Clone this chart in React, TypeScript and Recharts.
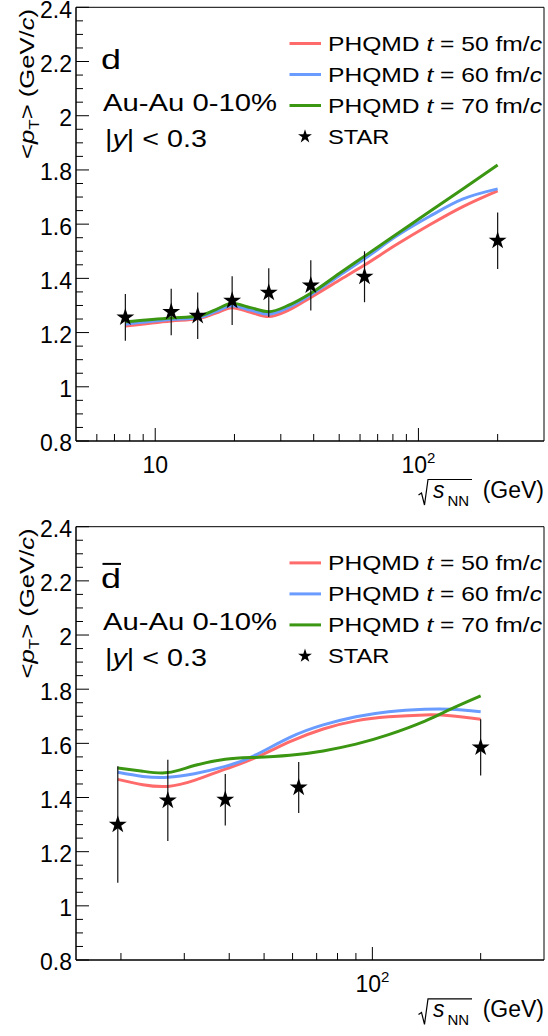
import React from 'react';
import {
  ComposedChart, Line, Scatter, ErrorBar, XAxis, YAxis, ZAxis, ReferenceArea, Legend, Symbols,
} from 'recharts';

const FONT = '"Liberation Sans", Arial, Helvetica, sans-serif';
const RED = '#ff6b6b';
const BLUE = '#6a9bff';
const GREEN = '#3b9612';

// --- deuteron panel ---
const dEnergy = [7.7, 11.5, 14.5, 19.6, 27, 39, 62.4, 200];
const dStar = [1.256, 1.276, 1.262, 1.318, 1.347, 1.374, 1.406, 1.539];
const dStarErr = [0.086, 0.086, 0.086, 0.09, 0.09, 0.093, 0.094, 0.104];
const dModelX = [7.7, 11.5, 14.5, 17, 19.6, 23, 27, 32, 39, 50, 62.4, 82, 110, 147, 200];
const d50 = [1.224, 1.243, 1.251, 1.272, 1.292, 1.275, 1.259, 1.282, 1.33, 1.393, 1.449, 1.523, 1.597, 1.664, 1.723];
const d60 = [1.231, 1.248, 1.255, 1.278, 1.299, 1.283, 1.268, 1.292, 1.339, 1.41, 1.472, 1.554, 1.628, 1.692, 1.73];
const d70 = [1.24, 1.254, 1.26, 1.285, 1.308, 1.292, 1.277, 1.3, 1.345, 1.418, 1.482, 1.561, 1.646, 1.729, 1.818];

// --- anti-deuteron panel ---
const dbarEnergy = [19.6, 27, 39, 62.4, 200];
const dbarStar = [1.3, 1.389, 1.392, 1.437, 1.585];
const dbarStarErr = [0.215, 0.15, 0.095, 0.094, 0.104];
const dbarModelX = [19.6, 23, 27, 32, 39, 47, 59, 73, 90, 111, 140, 165, 200];
const dbar50 = [1.467, 1.447, 1.441, 1.463, 1.505, 1.545, 1.606, 1.653, 1.683, 1.698, 1.705, 1.702, 1.689];
const dbar60 = [1.493, 1.478, 1.475, 1.488, 1.515, 1.555, 1.622, 1.668, 1.698, 1.717, 1.726, 1.726, 1.717];
const dbar70 = [1.509, 1.497, 1.492, 1.518, 1.541, 1.548, 1.556, 1.572, 1.597, 1.632, 1.682, 1.726, 1.775];

// --- axes ---
const yMajor = [0.8, 1, 1.2, 1.4, 1.6, 1.8, 2, 2.2, 2.4];
const yMinor = [0.85, 0.9, 0.95, 1.05, 1.1, 1.15, 1.25, 1.3, 1.35, 1.45, 1.5, 1.55, 1.65, 1.7, 1.75,
  1.85, 1.9, 1.95, 2.05, 2.1, 2.15, 2.25, 2.3, 2.35];
const dXMajor = [10, 100];
const dXMinor = [6, 7, 8, 9, 20, 30, 40, 50, 60, 70, 80, 90, 200];
const dbarXMajor = [100];
const dbarXMinor = [20, 30, 40, 50, 60, 70, 80, 90, 200];

const modelTimes = ['50', '60', '70'];
const modelColors = [RED, BLUE, GREEN];

const toPoints = (xs: number[], ys: number[]) => xs.map((x, i) => ({ x, y: ys[i] }));
const toStars = (xs: number[], ys: number[], es: number[]) => xs.map((x, i) => ({ x, y: ys[i], err: es[i] }));

// ticks are drawn inside the frame, ROOT style
function YTick(props: any) {
  const { x, y, payload } = props;
  const major = yMajor.includes(payload.value);
  return (
    <g>
      <line x1={x} x2={x + (major ? 13 : 7)} y1={y} y2={y} stroke="#000" strokeWidth={1} />
      {major && (
        <text x={x - 4} y={y} dy="0.45em" textAnchor="end" fontSize={23} fontFamily={FONT} fill="#000">
          {String(payload.value)}
        </text>
      )}
    </g>
  );
}

function makeXTick(majors: number[]) {
  return function XTick(props: any) {
    const { x, y, payload } = props;
    const major = majors.includes(payload.value);
    const exp = Math.round(Math.log10(payload.value));
    return (
      <g>
        <line x1={x} x2={x} y1={y} y2={y - (major ? 13 : 7)} stroke="#000" strokeWidth={1} />
        {major && (
          <text x={x} y={y + 32} textAnchor="middle" fontSize={23} fontFamily={FONT} fill="#000">
            10
            {exp > 1 && <tspan dy={-10} fontSize={15}>{exp}</tspan>}
          </text>
        )}
      </g>
    );
  };
}

function YTitle({ dy }: { dy: number }) {
  return (
    <text
      transform={`translate(33.5, ${84 + dy}) rotate(-90)`}
      textAnchor="middle" fontSize={21} fontFamily={FONT} fill="#000"
      textLength={150} lengthAdjust="spacingAndGlyphs"
    >
      &lt;<tspan fontStyle="italic">p</tspan>
      <tspan fontSize={14} dy={5}>T</tspan>
      <tspan dy={-5}>&gt; (GeV/</tspan>
      <tspan fontStyle="italic">c</tspan>)
    </text>
  );
}

function XTitle({ dy }: { dy: number }) {
  return (
    <g fontFamily={FONT} fill="#000">
      <path
        d={`M418.5 ${495 + dy} L421.5 ${493 + dy} L424.5 ${505 + dy} L428 ${479.5 + dy} L472 ${479.5 + dy}`}
        fill="none" stroke="#000" strokeWidth={1.2}
      />
      <text x={433} y={498 + dy} fontSize={23} fontStyle="italic">s</text>
      <text x={447.5} y={505.5 + dy} fontSize={15}>NN</text>
      <text x={544} y={498 + dy} fontSize={23} textAnchor="end">(GeV)</text>
    </g>
  );
}

function PanelKey({ bar, dy }: { bar: boolean; dy: number }) {
  return (
    <svg width={548} height={200} style={{ display: 'block', overflow: 'visible' }} fontFamily={FONT} fill="#000">
      <text x={101} y={68.5 + dy} fontSize={27} textLength={20} lengthAdjust="spacingAndGlyphs">d</text>
      {bar && <line x1={102.5} x2={121} y1={44.5 + dy} y2={44.5 + dy} stroke="#000" strokeWidth={2} />}
      <text x={103} y={111 + dy} fontSize={23} textLength={174} lengthAdjust="spacingAndGlyphs">Au-Au 0-10%</text>
      <text x={105} y={146.5 + dy} fontSize={23} textLength={102} lengthAdjust="spacingAndGlyphs">
        |<tspan fontStyle="italic">y</tspan>| &lt; 0.3
      </text>
      {modelTimes.map((t, i) => {
        const yy = 43.5 + i * 31 + dy;
        return (
          <g key={t}>
            <line x1={289.5} x2={321} y1={yy} y2={yy} stroke={modelColors[i]} strokeWidth={3} />
            <text x={328} y={yy + 7.5} fontSize={21} textLength={214} lengthAdjust="spacingAndGlyphs">
              PHQMD <tspan fontStyle="italic">t</tspan> = {t} fm/<tspan fontStyle="italic">c</tspan>
            </text>
          </g>
        );
      })}
      <Symbols cx={305} cy={136.5 + dy} type="star" size={60} fill="#000" />
      <text x={328} y={144 + dy} fontSize={21} textLength={61.5} lengthAdjust="spacingAndGlyphs">STAR</text>
    </svg>
  );
}

interface PanelProps {
  bar: boolean;
  energy: number[];
  star: number[];
  starErr: number[];
  modelX: number[];
  m50: number[];
  m60: number[];
  m70: number[];
  curve: 'monotone' | 'natural';
  xDomain: [number, number];
  xMajor: number[];
  xMinor: number[];
  marginTop: number;
  marginBottom: number;
  dy: number;
}

function Panel(p: PanelProps) {
  const stars = toStars(p.energy, p.star, p.starErr);
  const models = [p.m50, p.m60, p.m70];
  const xTicks = [...p.xMajor, ...p.xMinor].sort((a, b) => a - b);
  const yTicks = [...yMajor, ...yMinor].sort((a, b) => a - b);
  const XTick = makeXTick(p.xMajor);
  return (
    <ComposedChart
      width={548}
      height={518}
      margin={{ top: p.marginTop, right: 4, bottom: p.marginBottom, left: 75 }}
      style={{ overflow: 'visible' }}
    >
      <XAxis
        xAxisId="x" dataKey="x" type="number" scale="log" domain={p.xDomain} allowDataOverflow
        ticks={xTicks} interval={0} tick={(t: any) => <XTick {...t} />} tickLine={false}
        tickSize={0} tickMargin={0} height={1} stroke="#000"
        label={{ content: () => <XTitle dy={p.dy} /> }}
      />
      <YAxis
        yAxisId="y" dataKey="y" type="number" domain={[0.8, 2.4]} allowDataOverflow
        ticks={yTicks} interval={0} tick={(t: any) => <YTick {...t} />} tickLine={false}
        tickSize={0} tickMargin={0} width={1} stroke="#000"
        label={{ content: () => <YTitle dy={p.dy} /> }}
      />
      <ZAxis range={[100, 100]} />
      <ReferenceArea
        xAxisId="x" yAxisId="y" x1={p.xDomain[0]} x2={p.xDomain[1]} y1={0.8} y2={2.4}
        fill="none" stroke="#000" strokeWidth={1} ifOverflow="visible"
      />
      {models.map((m, i) => (
        <Line
          key={modelTimes[i]}
          xAxisId="x" yAxisId="y"
          name={`PHQMD t = ${modelTimes[i]} fm/c`}
          data={toPoints(p.modelX, m)}
          dataKey="y"
          type={p.curve}
          stroke={modelColors[i]}
          strokeWidth={3}
          dot={false}
          activeDot={false}
          isAnimationActive={false}
        />
      ))}
      <Scatter
        xAxisId="x" yAxisId="y" name="STAR" data={stars} dataKey="y"
        shape="star" fill="#000" isAnimationActive={false}
      >
        <ErrorBar dataKey="err" direction="y" width={0} stroke="#111" strokeWidth={1.2} />
      </Scatter>
      <Legend
        layout="horizontal" verticalAlign="middle" align="center"
        wrapperStyle={{ top: 0, left: 0, width: 548, height: 200, pointerEvents: 'none' }}
        content={() => <PanelKey bar={p.bar} dy={p.dy} />}
      />
    </ComposedChart>
  );
}

export default function App() {
  return (
    <div style={{ position: 'absolute', left: 0, top: 0, width: 548, height: 1036, background: '#fff' }}>
      <Panel
        bar={false} energy={dEnergy} star={dStar} starErr={dStarErr}
        modelX={dModelX} m50={d50} m60={d60} m70={d70} curve="monotone"
        xDomain={[5, 300]} xMajor={dXMajor} xMinor={dXMinor}
        marginTop={7.3} marginBottom={76} dy={0}
      />
      <Panel
        bar energy={dbarEnergy} star={dbarStar} starErr={dbarStarErr}
        modelX={dbarModelX} m50={dbar50} m60={dbar60} m70={dbar70} curve="natural"
        xDomain={[15, 300]} xMajor={dbarXMajor} xMinor={dbarXMinor}
        marginTop={8.7} marginBottom={75} dy={1.4}
      />
    </div>
  );
}
